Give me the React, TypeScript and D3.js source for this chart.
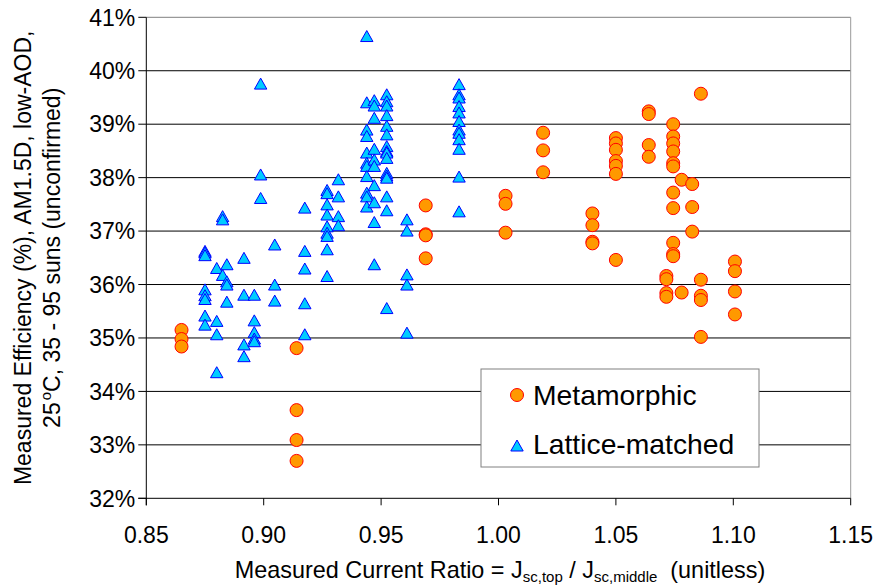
import React from "react";
import * as d3 from "d3";

// Metamorphic cells: current ratio (x) and efficiency in % (y)
const metaX = [
  0.865, 0.865, 0.865,
  0.914, 0.914, 0.914, 0.914,
  0.969, 0.969, 0.969, 0.969,
  1.003, 1.003, 1.003,
  1.019, 1.019, 1.019,
  1.040, 1.040, 1.040, 1.040,
  1.050, 1.050, 1.050, 1.050, 1.050, 1.050, 1.050,
  1.064, 1.064, 1.064, 1.064,
  1.0744, 1.0744, 1.0744, 1.0744, 1.0744, 1.0744, 1.0744, 1.0744, 1.0744, 1.0744, 1.0744,
  1.078, 1.078,
  1.0715, 1.0715, 1.0715, 1.0715,
  1.0825, 1.0825, 1.0825,
  1.0862, 1.0862, 1.0862, 1.0862, 1.0862,
  1.1007, 1.1007, 1.1007, 1.1007,
];
const metaY = [
  35.15, 34.98, 34.84,
  34.81, 33.65, 33.09, 32.70,
  37.48, 36.94, 36.92, 36.49,
  37.66, 37.51, 36.97,
  38.84, 38.51, 38.10,
  37.33, 37.11, 36.80, 36.77,
  38.74, 38.64, 38.52, 38.31, 38.22, 38.07, 36.46,
  39.24, 39.19, 38.61, 38.39,
  39.00, 38.77, 38.64, 38.49, 38.27, 38.21, 37.72, 37.43, 36.78, 36.57, 36.53,
  37.96, 35.85,
  36.16, 36.10, 35.84, 35.77,
  37.88, 37.45, 36.99,
  39.57, 36.09, 35.79, 35.71, 35.02,
  36.43, 36.25, 35.87, 35.44,
];

// Lattice-matched cells
const latticeX = [
  0.875, 0.875, 0.875, 0.875, 0.875, 0.875, 0.875, 0.875,
  0.880, 0.880, 0.880, 0.880,
  0.8825, 0.8825, 0.8825,
  0.8843, 0.8843, 0.8843, 0.8843,
  0.8916, 0.8916, 0.8916, 0.8916,
  0.896, 0.896, 0.896, 0.896, 0.896,
  0.8987, 0.8987, 0.8987,
  0.9047, 0.9047, 0.9047,
  0.9175, 0.9175, 0.9175, 0.9175, 0.9175,
  0.927, 0.927, 0.927, 0.927, 0.927, 0.927, 0.927, 0.927, 0.927,
  0.9318, 0.9318, 0.9318, 0.9318,
  0.9439, 0.9439, 0.9439, 0.9439, 0.9439, 0.9439, 0.9439, 0.9439, 0.9439, 0.9439, 0.9439,
  0.9471, 0.9471, 0.9471, 0.9471, 0.9471, 0.9471, 0.9471, 0.9471, 0.9471, 0.9471,
  0.9524, 0.9524, 0.9524, 0.9524, 0.9524, 0.9524, 0.9524, 0.9524, 0.9524, 0.9524, 0.9524, 0.9524, 0.9524, 0.9524, 0.9524, 0.9524,
  0.961, 0.961, 0.961, 0.961, 0.961,
  0.9832, 0.9832, 0.9832, 0.9832, 0.9832, 0.9832, 0.9832, 0.9832, 0.9832, 0.9832, 0.9832, 0.9832,
];
const latticeY = [
  36.62, 36.59, 36.54, 35.90, 35.79, 35.72, 35.41, 35.24,
  36.30, 35.31, 35.06, 34.35,
  37.27, 37.21, 36.17,
  36.37, 36.05, 35.99, 35.67,
  36.49, 35.80, 34.87, 34.65,
  35.80, 35.32, 35.10, 34.98, 34.93,
  39.75, 38.05, 37.61,
  36.74, 35.99, 35.69,
  37.43, 36.62, 36.29, 35.64, 35.06,
  37.76, 37.70, 37.49, 37.30, 37.08, 36.96, 36.90, 36.65, 36.15,
  37.96, 37.64, 37.27, 37.10,
  40.64, 39.40, 38.89, 38.77, 38.46, 38.27, 38.21, 38.02, 37.71, 37.64, 37.45,
  39.44, 39.34, 39.11, 38.53, 38.33, 38.21, 37.85, 37.53, 37.16, 36.37,
  39.55, 39.42, 39.34, 39.16, 38.96, 38.80, 38.58, 38.49, 38.46, 38.36, 38.08, 38.03, 37.99, 37.64, 37.38, 35.55,
  37.21, 37.00, 36.18, 35.99, 35.09,
  39.74, 39.55, 39.49, 39.33, 39.21, 39.05, 38.89, 38.83, 38.71, 38.53, 38.01, 37.36,
];

const xTicks = [0.85, 0.9, 0.95, 1.0, 1.05, 1.1, 1.15];
const yTicks = [32, 33, 34, 35, 36, 37, 38, 39, 40, 41];
const seriesNames = ["Metamorphic", "Lattice-matched"];

const W = 876;
const H = 587;
const FONT = "'Liberation Sans', Arial, sans-serif";

const x = d3.scaleLinear().domain([0.85, 1.15]).range([146.3, 850.7]);
const y = d3.scaleLinear().domain([32, 41]).range([498.3, 17.3]);

const ORANGE = "#ff9900";
const RED = "#ff0000";
const SKY = "#00ccff";
const BLUE = "#0000ff";
const triPath = "M0,-6L6.2,5L-6.2,5Z";

export default function App() {
  const metaPts = metaX.map((v, i) => [v, metaY[i]]);
  const latPts = latticeX.map((v, i) => [v, latticeY[i]]);
  const left = x(0.85);
  const right = x(1.15);
  const top = y(41);
  const bottom = y(32);
  return (
    <>
      <style>{`body{margin:0}`}</style>
      <svg width={W} height={H} style={{ display: "block", background: "#fff" }} fontFamily={FONT}>
        {/* horizontal gridlines */}
        {yTicks.slice(1).map((t) => (
          <line key={t} x1={left} x2={right} y1={y(t)} y2={y(t)}
            stroke={t === 41 ? "#808080" : "#000"} strokeWidth={1} />
        ))}
        {/* right border of plot area */}
        <line x1={right} x2={right} y1={top} y2={bottom} stroke="#999" strokeWidth={1} />
        {/* axes */}
        <line x1={left} x2={left} y1={top} y2={bottom + 7} stroke="#000" strokeWidth={1} />
        <line x1={left - 8} x2={right} y1={bottom} y2={bottom} stroke="#000" strokeWidth={1} />
        {yTicks.map((t) => (
          <g key={t}>
            <line x1={left - 8} x2={left} y1={y(t)} y2={y(t)} stroke="#000" />
            <text x={left - 11} y={y(t)} dy="0.36em" textAnchor="end" fontSize={23}>{`${t}%`}</text>
          </g>
        ))}
        {xTicks.map((t) => (
          <g key={t}>
            <line x1={x(t)} x2={x(t)} y1={bottom} y2={bottom + 7} stroke="#000" />
            <text x={x(t)} y={bottom + 45} textAnchor="middle" fontSize={23}>{t.toFixed(2)}</text>
          </g>
        ))}
        {/* series */}
        {metaPts.map((p, i) => (
          <circle key={`m${i}`} cx={x(p[0])} cy={y(p[1])} r={6.5} fill={ORANGE} stroke={RED} strokeWidth={1} />
        ))}
        {latPts.map((p, i) => (
          <path key={`l${i}`} d={triPath} transform={`translate(${x(p[0])},${y(p[1])})`}
            fill={SKY} stroke={BLUE} strokeWidth={1} />
        ))}
        {/* legend */}
        <rect x={481} y={369} width={278} height={98} fill="#fff" stroke="#808080" strokeWidth={1} />
        <circle cx={517} cy={395} r={6.5} fill={ORANGE} stroke={RED} />
        <text x={533} y={405} fontSize={28.3}>{seriesNames[0]}</text>
        <path d={triPath} transform="translate(517,446)" fill={SKY} stroke={BLUE} />
        <text x={533} y={454} fontSize={28.3}>{seriesNames[1]}</text>
        {/* axis titles */}
        <text x={500} y={578} textAnchor="middle" fontSize={23.4}>
          <tspan>Measured Current Ratio = J</tspan>
          <tspan fontSize={15} dy={4}>sc,top</tspan>
          <tspan dy={-4}> / J</tspan>
          <tspan fontSize={15} dy={4}>sc,middle</tspan>
          <tspan dy={-4} xmlSpace="preserve">{"  (unitless)"}</tspan>
        </text>
        <g transform={`translate(0,${(top + bottom) / 2}) rotate(-90)`}>
          <text x={0} y={31} textAnchor="middle" fontSize={23}>
            Measured Efficiency (%), AM1.5D, low-AOD,
          </text>
          <text x={0} y={60} textAnchor="middle" fontSize={23}>
            <tspan>25</tspan>
            <tspan fontSize={15} dy={-9} dx={2}>o</tspan>
            <tspan dy={9}>C, 35 - 95 suns (unconfirmed)</tspan>
          </text>
        </g>
      </svg>
    </>
  );
}
